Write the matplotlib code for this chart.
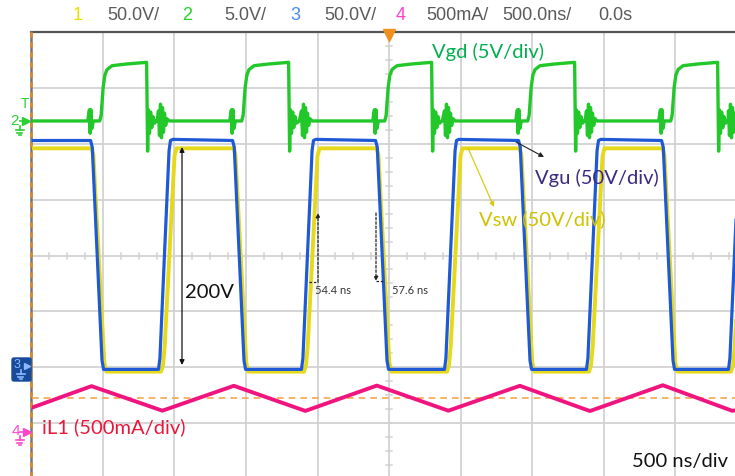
import matplotlib
matplotlib.use('Agg')
import matplotlib.pyplot as plt
from matplotlib import font_manager as fm
from matplotlib.patches import FancyBboxPatch

W, H = 735, 476

# ---------------- scope header ----------------
ch_numbers = ['1', '2', '3', '4']
ch_scales = ['50.0V/', '5.0V/', '50.0V/', '500mA/']
timebase = '500.0ns/'
delay = '0.0s'

# ---------------- channel settings ----------------
NS_PER_DIV = 500
VSW_SCALE, VGU_SCALE, VGD_SCALE, IL_SCALE = 50, 50, 5, 500   # unit / div
GND_13, GND_2, GND_4 = 2.0, 6.41, 0.82                        # ground, div from bottom

# ---------------- data (time in ns, 0 = trigger) ----------------
fall_ns = [-2087, -1094, -94, 906, 1906]     # Vgu high -> low edge starts
rise_ns = [-1612, -612, 388, 1381, 2374]     # Vgu low -> high edge starts

# Vgu (ch3, V)
vgu_high = 203
vgu_fall_dt = [0, 12, 80, 91]
vgu_fall_v = [203, 197, 6, -2]
vgu_rise_dt = [0, 10, 74, 84, 100]
vgu_rise_v = [-2, 8, 194, 203, 204]

# Vsw (ch1, V)
vsw_high = 196
vsw_fall_dt = [8, 20, 96, 110]
vsw_fall_v = [196, 190, 4, -4]
vsw_rise_dt = [18, 32, 44, 112, 126]
vsw_rise_v = [-4, 2, 20, 189, 196]

# Vgd (ch2, V) : pulse after each Vsw fall, ringing burst at each Vsw rise
vgd_low = 0.0
vgd_fall_dt = [-20, -8, -3, 3, 8, 20, 64, 74, 88, 100, 115, 150, 250, 392,
               399, 404, 412, 420, 428, 436, 448, 465]
vgd_fall_v = [0, 1.0, -1.1, 1.0, -0.7, 0, 0.0, 0.5, 3.0, 4.1, 4.6, 4.95, 5.1, 5.25,
              -2.7, 1.0, -1.1, 0.8, -0.6, 0.4, -0.2, 0]
vgd_ring_dt = [-15, 0, 7, 14, 21, 28, 35, 42, 50, 60, 75]
vgd_ring_v = [0, 0.9, -1.3, 1.5, -1.5, 1.2, -1.0, 0.7, -0.4, 0.2, 0]

# iL1 (ch4, mA) triangular current
il_t = [-2500, -2080, -1585, -1085, -585, -85, 415, 915, 1405, 1915, 2400, 2500]
il_v = [226, 420, 200, 423, 198, 425, 200, 423, 197, 428, 199, 215]
il_ref = 315   # orange dashed level (mA)

# ---------------- fonts ----------------
names = {f.name for f in fm.fontManager.ttflist}
HDR_FONT = 'Liberation Sans Narrow' if 'Liberation Sans Narrow' in names else 'Liberation Sans'
ANN_FONT = 'Lato' if 'Lato' in names else 'DejaVu Sans'

# ---------------- figure ----------------
fig = plt.figure(figsize=(W / 100, H / 100), dpi=100)
fig.patch.set_facecolor('white')

X0, X1 = 31.5, 746.5
Y0, Y1 = 32.2, 478.8
ax = fig.add_axes([X0 / W, 1 - Y1 / H, (X1 - X0) / W, (Y1 - Y0) / H])
ax.set_xlim(-2500, 2500)
ax.set_ylim(0, 8)
ax.axis('off')
ns_px = 5000 / (X1 - X0)
div_px = 8 / (Y1 - Y0)

grid_c = '#d2d2d2'
for i in range(1, 10):
    ax.axvline(-2500 + i * NS_PER_DIV, color=grid_c, lw=1.3, zorder=1)
for j in range(1, 8):
    ax.axhline(j, color=grid_c, lw=1.3, zorder=1)
for k in range(-20, 21):
    t = k * NS_PER_DIV / 4
    ax.plot([t, t], [4 - 3 * div_px, 4 + 3 * div_px], color=grid_c, lw=1.1, zorder=1)
for k in range(1, 32):
    y = k * 0.25
    ax.plot([-3 * ns_px, 3 * ns_px], [y, y], color=grid_c, lw=1.1, zorder=1)

# frame
ax.plot([-2500, 2500], [8, 8], color='#555555', lw=1.6, clip_on=False, zorder=2)
ax.plot([-2500, -2500], [0, 8], color='#777777', lw=1.8, clip_on=False, zorder=2)
ax.plot([-2500, -2500], [0, 8], color='#e08a20', lw=1.8, dashes=(2, 2),
        clip_on=False, zorder=2)
# trigger marker
ax.plot(0, 8 - 3 * div_px, marker='v', color='#f0901e', ms=8, clip_on=False, zorder=5)
# orange reference line at iL1 level
ax.axhline(GND_4 + il_ref / IL_SCALE, color='#f5a74a', lw=1.2, dashes=(4, 3), zorder=2)


def build(t_start, v_start, t_end, v_end, groups):
    pts = [(t_start, v_start), (t_end, v_end)]
    for times, dts, vals in groups:
        for t in times:
            pts += [(t + d, v) for d, v in zip(dts, vals)]
    pts.sort()
    return [p[0] for p in pts], [p[1] for p in pts]


# Vsw (yellow)
t, v = build(-2600, vsw_high, 2600, vsw_high,
             [(fall_ns, vsw_fall_dt, vsw_fall_v), (rise_ns, vsw_rise_dt, vsw_rise_v)])
ax.plot(t, [GND_13 + x / VSW_SCALE for x in v], color='#e6d81a', lw=2.8, zorder=3,
        solid_joinstyle='round')
# Vgu (blue)
t, v = build(-2600, vgu_high, 2600, vgu_high,
             [(fall_ns, vgu_fall_dt, vgu_fall_v), (rise_ns, vgu_rise_dt, vgu_rise_v)])
ax.plot(t, [GND_13 + x / VGU_SCALE for x in v], color='#1f5ad6', lw=2.3, zorder=4,
        solid_joinstyle='round')
# Vgd (green)
t, v = build(-2600, vgd_low, 2600, vgd_low,
             [(fall_ns, vgd_fall_dt, vgd_fall_v), (rise_ns, vgd_ring_dt, vgd_ring_v)])
ax.plot(t, [GND_2 + x / VGD_SCALE for x in v], color='#22c82a', lw=2.4, zorder=4,
        solid_joinstyle='round')
# iL1 (magenta)
ax.plot(il_t, [GND_4 + x / IL_SCALE for x in il_v], color='#f0147f', lw=2.8, zorder=4)

# ---------------- overlay in pixel coordinates ----------------
ov = fig.add_axes([0, 0, 1, 1])
ov.set_xlim(0, W)
ov.set_ylim(H, 0)
ov.axis('off')

hdr_c = '#5a5a5a'
num_cols = ['#e8e000', '#22d42a', '#4a88ee', '#ff40c8']
num_x = [78, 187, 295, 401]
scale_x = [133, 245, 350, 457]
for n, s, c, xn, xs in zip(ch_numbers, ch_scales, num_cols, num_x, scale_x):
    ov.text(xn, 16, n, color=c, fontsize=13, family=HDR_FONT, ha='center', va='center')
    ov.text(xs, 16, s, color=hdr_c, fontsize=13, family=HDR_FONT, ha='center', va='center')
ov.text(537, 16, timebase, color=hdr_c, fontsize=13, family=HDR_FONT, ha='center', va='center')
ov.text(615, 16, delay, color=hdr_c, fontsize=13, family=HDR_FONT, ha='center', va='center')


def ground(x, y, c):
    ov.plot([x, x], [y, y + 4], color=c, lw=1.2)
    ov.plot([x - 4, x + 4], [y + 4, y + 4], color=c, lw=1.2)
    ov.plot([x - 2.5, x + 2.5], [y + 6.5, y + 6.5], color=c, lw=1.2)
    ov.plot([x - 1, x + 1], [y + 9, y + 9], color=c, lw=1.2)


g2 = '#28d030'
ov.text(25, 104, 'T', color=g2, fontsize=10, family=HDR_FONT, ha='center', va='center')
ov.text(15, 121, '2', color=g2, fontsize=11, family=HDR_FONT, ha='center', va='center')
ov.plot(26, 121, marker='>', color=g2, ms=6)
ov.plot([20, 26], [121, 121], color=g2, lw=1.2)
ground(20, 126, g2)

box = FancyBboxPatch((12, 358), 19, 23, boxstyle='round,pad=0,rounding_size=2',
                     fc='#174a98', ec='#174a98')
ov.add_patch(box)
ov.text(17, 365, '3', color='#8ab8ff', fontsize=9, family=HDR_FONT, ha='center', va='center')
ov.plot(27, 366, marker='>', color='#8ab8ff', ms=5)
ground(21, 370, '#8ab8ff')

m4 = '#ff46c8'
ov.text(16, 431, '4', color=m4, fontsize=11, family=HDR_FONT, ha='center', va='center')
ov.plot(27, 432, marker='>', color=m4, ms=6)
ov.plot([20, 27], [432, 432], color=m4, lw=1.2)
ground(20, 436, m4)

# annotations
ov.text(488, 52, 'Vgd (5V/div)', color='#00b050', fontsize=14.5, family=ANN_FONT,
        ha='center', va='center')
ov.text(535, 178, 'Vgu (50V/div)', color='#3a2a82', fontsize=14.5, family=ANN_FONT,
        ha='left', va='center')
ov.text(479, 219, 'Vsw (50V/div)', color='#cdc200', fontsize=14.5, family=ANN_FONT,
        ha='left', va='center')
ov.text(42, 427, 'iL1 (500mA/div)', color='#e8173c', fontsize=14.5, family=ANN_FONT,
        ha='left', va='center')
ov.text(632, 462, '500 ns/div', color='#111111', fontsize=14.5, family=ANN_FONT,
        ha='left', va='center')
ov.text(185, 292, '200V', color='#111111', fontsize=14.5, family=ANN_FONT,
        ha='left', va='center')
ov.text(315, 290, '54.4 ns', color='#333333', fontsize=8, family=ANN_FONT,
        ha='left', va='center')
ov.text(392, 290, '57.6 ns', color='#333333', fontsize=8, family=ANN_FONT,
        ha='left', va='center')

ov.annotate('', xy=(182, 147), xytext=(182, 365),
            arrowprops=dict(arrowstyle='<|-|>', color='#111111', lw=0.9,
                            mutation_scale=7, shrinkA=0, shrinkB=0))
ov.annotate('', xy=(318, 213), xytext=(318, 282),
            arrowprops=dict(arrowstyle='-|>', color='#222222', lw=0.9, ls=(0, (2, 1.5)),
                            mutation_scale=6, shrinkA=0, shrinkB=0))
ov.plot([309, 318], [282, 282], color='#222222', lw=0.9, ls=(0, (2, 1.5)))
ov.annotate('', xy=(376, 281), xytext=(376, 213),
            arrowprops=dict(arrowstyle='-|>', color='#222222', lw=0.9, ls=(0, (2, 1.5)),
                            mutation_scale=6, shrinkA=0, shrinkB=0))
ov.plot([376, 383], [281, 281], color='#222222', lw=0.9, ls=(0, (2, 1.5)))
ov.annotate('', xy=(544, 157), xytext=(516, 142),
            arrowprops=dict(arrowstyle='-|>', color='#222222', lw=0.8,
                            mutation_scale=7, shrinkA=0, shrinkB=0))
ov.annotate('', xy=(494, 207), xytext=(468, 148),
            arrowprops=dict(arrowstyle='-|>', color='#d8cc10', lw=0.9,
                            mutation_scale=7, shrinkA=0, shrinkB=0))

fig.savefig('out.png', dpi=100, facecolor='white')
